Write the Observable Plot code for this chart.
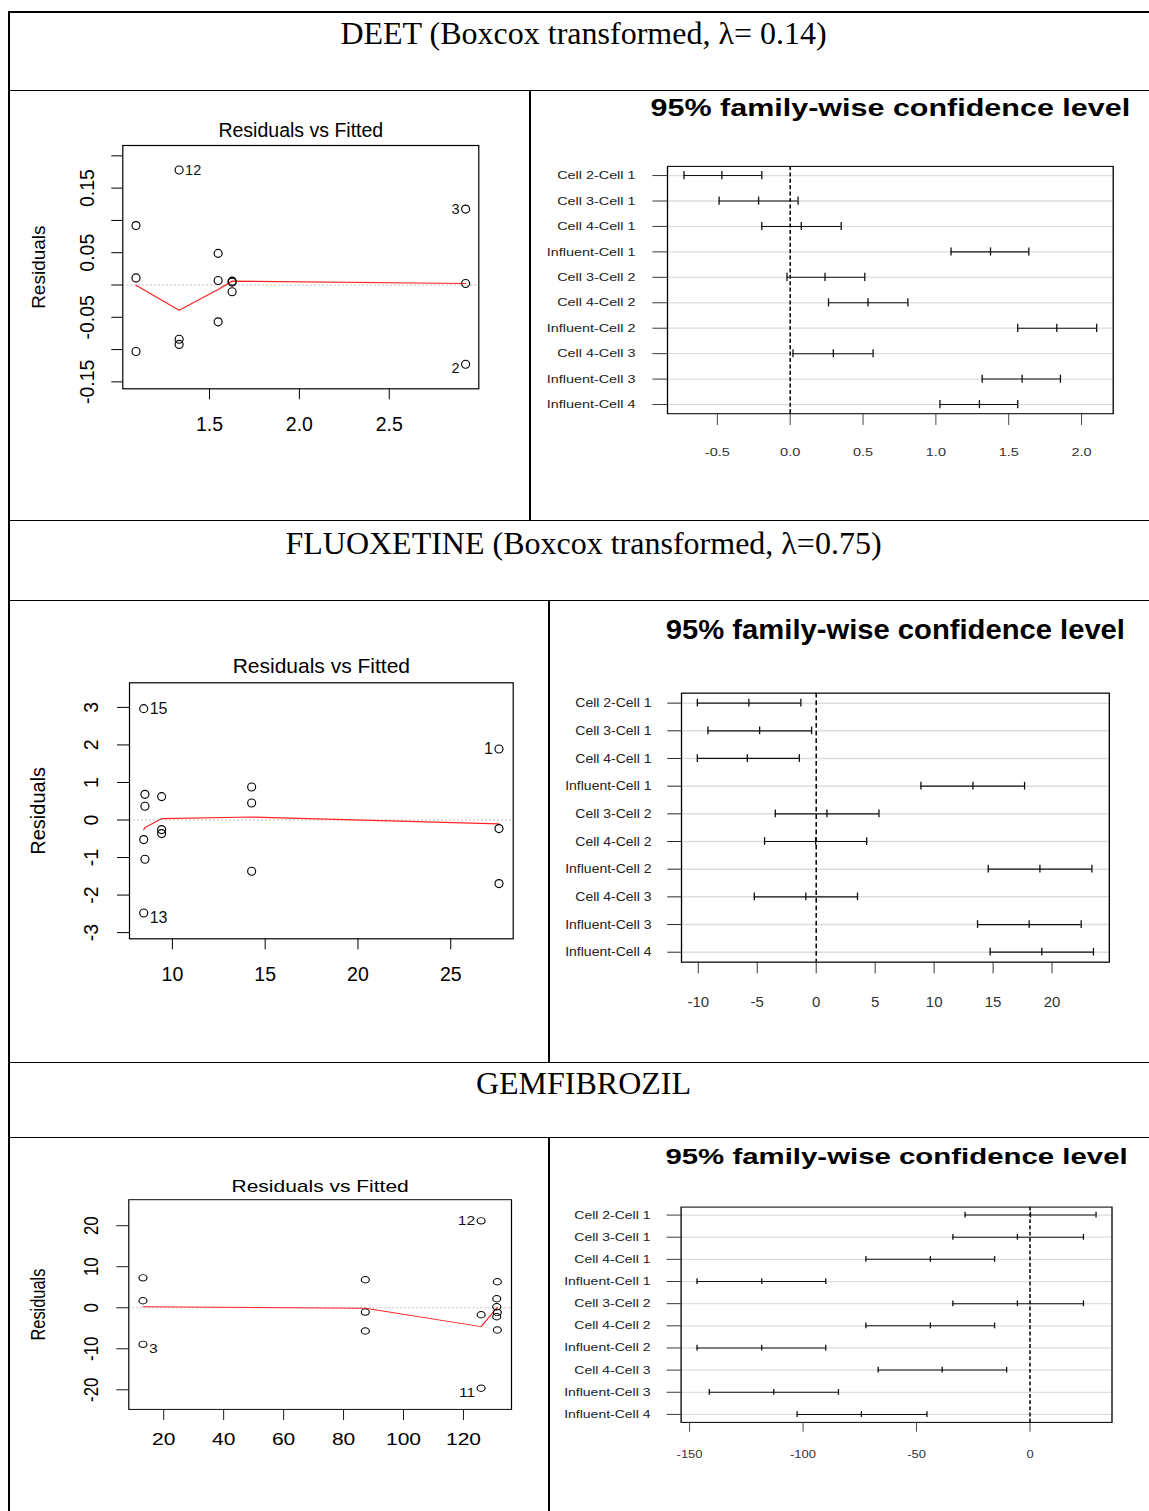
<!DOCTYPE html>
<html><head><meta charset="utf-8">
<script src="https://cdn.jsdelivr.net/npm/d3@7"></script>
<script src="https://cdn.jsdelivr.net/npm/@observablehq/plot@0.6"></script>
<style>
html,body{margin:0;padding:0;background:#fff;}
#page{position:relative;width:1149px;height:1511px;overflow:hidden;background:#fff;}
.line{position:absolute;background:#000;}
.hdr{position:absolute;left:9px;width:1149px;text-align:center;font-family:"Liberation Serif","Times New Roman",serif;font-size:32px;line-height:36px;color:#000;white-space:nowrap;}
.panel{position:absolute;transform-origin:0 0;}
.panel svg{overflow:visible;display:block;max-width:none;}
</style></head><body><div id="page"></div>
<script>
// ---------------- DATA ----------------
const headers = ["DEET (Boxcox transformed, λ= 0.14)", "FLUOXETINE (Boxcox transformed, λ=0.75)", "GEMFIBROZIL"];
const residTitle = "Residuals vs Fitted";
const residYLabel = "Residuals";
const tukeyTitle = "95% family-wise confidence level";
const comparisons = ["Cell 2-Cell 1","Cell 3-Cell 1","Cell 4-Cell 1","Influent-Cell 1","Cell 3-Cell 2","Cell 4-Cell 2","Influent-Cell 2","Cell 4-Cell 3","Influent-Cell 3","Influent-Cell 4"];

// DEET residuals vs fitted
const deetFitted = [1.091,1.091,1.091,1.331,1.331,1.331,1.548,1.548,1.548,1.626,1.626,1.626,2.925,2.925,2.925];
const deetResid  = [0.092,0.011,-0.103,0.178,-0.084,-0.092,0.049,0.007,-0.057,0.006,0.0045,-0.0105,0.1176,0.0023,-0.1227];
const deetIds    = ["","","","12","","","","","","","","","3","","2"];
const deetSmoothX = [1.091,1.331,1.548,1.626,2.925];
const deetSmoothY = [-0.0003,-0.039,-0.007,0.006,0.0023];
const deetResXTicks = [1.5,2.0,2.5];
const deetResXLabels = ["1.5","2.0","2.5"];
const deetResYTicks = [-0.15,-0.10,-0.05,0,0.05,0.10,0.15,0.20];
const deetResYLabels = ["-0.15","","-0.05","","0.05","","0.15",""];
// DEET Tukey
const deetDiff = [-0.469,-0.217,0.076,1.375,0.239,0.534,1.830,0.296,1.592,1.299];
const deetLwr  = [-0.729,-0.488,-0.195,1.104,-0.022,0.263,1.562,0.019,1.318,1.028];
const deetUpr  = [-0.195,0.054,0.350,1.638,0.512,0.808,2.104,0.569,1.855,1.562];
const deetTukeyTicks = [-0.5,0,0.5,1,1.5,2];
const deetTukeyLabels = ["-0.5","0.0","0.5","1.0","1.5","2.0"];

// FLUOXETINE residuals vs fitted
const fluoFitted = [8.454,8.454,8.454,8.52,8.52,8.52,9.42,9.42,9.42,14.27,14.27,14.27,27.6,27.6,27.6];
const fluoResid  = [2.967,-0.522,-2.477,0.684,0.365,-1.047,0.623,-0.256,-0.362,0.879,0.453,-1.366,1.891,-0.229,-1.694];
const fluoIds    = ["15","","13","","","","","","","","","","1","",""];
const fluoSmoothX = [8.454,8.52,9.42,14.27,27.6];
const fluoSmoothY = [-0.26,-0.2,0.035,0.08,-0.105];
const fluoResXTicks = [10,15,20,25];
const fluoResXLabels = ["10","15","20","25"];
const fluoResYTicks = [-3,-2,-1,0,1,2,3];
const fluoResYLabels = ["-3","-2","-1","0","1","2","3"];
// FLUOXETINE Tukey
const fluoDiff = [-5.71,-4.80,-5.84,13.29,0.91,-0.05,18.97,-0.88,18.06,19.13];
const fluoLwr  = [-10.08,-9.18,-10.08,8.88,-3.47,-4.38,14.59,-5.25,13.68,14.75];
const fluoUpr  = [-1.30,-0.39,-1.43,17.67,5.32,4.28,23.38,3.50,22.47,23.51];
const fluoTukeyTicks = [-10,-5,0,5,10,15,20];
const fluoTukeyLabels = ["-10","-5","0","5","10","15","20"];

// GEMFIBROZIL residuals vs fitted
const gemFitted = [13.08,13.08,13.08,87.26,87.26,87.26,125.9,125.9,125.9,131.3,131.3,131.3,131.1,131.1,131.1];
const gemResid  = [7.30,1.70,-8.91,6.82,-1.05,-5.67,21.18,-1.70,-19.62,6.33,-1.14,-5.43,2.19,0.24,-2.19];
const gemIds    = ["","","3","","","","12","","11","","","","","",""];
const gemSmoothX = [13.08,87.26,125.9,131.3];
const gemSmoothY = [0.25,-0.1,-4.6,0.1];
const gemResXTicks = [20,40,60,80,100,120];
const gemResXLabels = ["20","40","60","80","100","120"];
const gemResYTicks = [-20,-10,0,10,20];
const gemResYLabels = ["-20","-10","0","10","20"];
// GEMFIBROZIL Tukey
const gemDiff = [0.24,-5.55,-43.9,-118.2,-5.55,-43.9,-118.2,-38.7,-112.9,-74.3];
const gemLwr  = [-28.6,-33.97,-72.3,-146.7,-33.97,-72.3,-146.7,-66.9,-141.3,-102.6];
const gemUpr  = [29.1,23.55,-15.6,-90.0,23.55,-15.6,-90.0,-10.3,-84.4,-45.4];
const gemTukeyTicks = [-150,-100,-50,0];
const gemTukeyLabels = ["-150","-100","-50","0"];

// ---------------- LAYOUT ----------------
const FONT = '"Liberation Sans", Arial, Helvetica, sans-serif';
const page = document.getElementById("page");
function addLine(l, t, w, h) {
  const d = document.createElement("div");
  d.className = "line";
  Object.assign(d.style, {left: l + "px", top: t + "px", width: w + "px", height: h + "px"});
  page.appendChild(d);
}
function addHeader(text, cy) {
  const d = document.createElement("div");
  d.className = "hdr";
  d.style.top = (cy - 18) + "px";
  d.textContent = text;
  page.appendChild(d);
}
function place(svg, L, T, W, sy) {
  const wrap = document.createElement("div");
  wrap.className = "panel";
  wrap.style.left = L + "px";
  wrap.style.top = T + "px";
  wrap.style.width = W + "px";
  wrap.style.transform = `scaleY(${sy})`;
  wrap.appendChild(svg);
  page.appendChild(wrap);
}
const pad = (v, f) => [v[0] - f * (v[1] - v[0]), v[1] + f * (v[1] - v[0])];

function residPlot(c) {
  const {L, T, W, H, sy, fr, fitted, resid, ids, sx, sY, xt, xl, yt, yl, s} = c;
  const h = H / sy;
  const data = fitted.map((f, i) => ({f, r: resid[i], id: ids[i]}));
  const xr = d3.extent(fitted), yr = d3.extent(resid);
  const xdom = pad(xr, 0.04), ydom = pad(pad(yr, 0.08), 0.04);
  const midX = (xr[0] + xr[1]) / 2;
  const smooth = sx.map((x, i) => ({x, y: sY[i]}));
  const xMap = new Map(xt.map((t, i) => [t, xl[i]]));
  const yMap = new Map(yt.map((t, i) => [t, yl[i]]));
  const lab = (filt, opts) => Plot.text(data.filter(d => d.id && filt(d)), {x: "f", y: "r", text: "id", fontSize: s.idFs, fill: "#111", lineAnchor: "middle", ...opts});
  const svg = Plot.plot({
    width: W, height: h,
    marginLeft: fr[0] - L, marginRight: L + W - fr[2],
    marginTop: (fr[1] - T) / sy, marginBottom: (T + H - fr[3]) / sy,
    style: {fontFamily: FONT, background: "transparent", overflow: "visible", color: "#000"},
    x: {domain: xdom}, y: {domain: ydom},
    marks: [
      Plot.ruleY([0], {stroke: "#bdbdbd", strokeDasharray: "2,2", strokeWidth: 1}),
      Plot.line(smooth, {x: "x", y: "y", stroke: "#ff2222", strokeWidth: 1.2}),
      Plot.dot(data, {x: "f", y: "r", r: 4, stroke: "#000", fill: "none", strokeWidth: 1.15}),
      lab(d => d.f < midX && d.r >= 0, {textAnchor: "start", dx: 6}),
      lab(d => d.f < midX && d.r < 0, {textAnchor: "start", dx: 6, dy: s.negDy}),
      lab(d => d.f >= midX && d.r >= 0, {textAnchor: "end", dx: -6}),
      lab(d => d.f >= midX && d.r < 0, {textAnchor: "end", dx: -6, dy: s.negDy}),
      Plot.frame({stroke: "#000", strokeWidth: 1.2}),
      Plot.axisX(xt, {tickSize: s.xts, tickPadding: s.xtp, tickFormat: d => xMap.get(d), fontSize: s.fs, label: null, color: "#000"}),
      Plot.axisY(yt, {tickSize: s.yts, tickPadding: s.ytp, tickRotate: -90, tickFormat: d => yMap.get(d), fontSize: s.fs, label: null, color: "#000"}),
      Plot.text([residTitle], {text: d => d, frameAnchor: "top", dy: -s.titleOff, fontSize: s.titleFs, textAnchor: "middle", lineAnchor: "middle", fill: "#000"}),
      Plot.text([residYLabel], {text: d => d, frameAnchor: "left", dx: -s.ylabOff, rotate: -90, fontSize: s.ylabFs, textAnchor: "middle", lineAnchor: "middle", fill: "#000"})
    ]
  });
  place(svg, L, T, W, sy);
}

function tukeyPlot(c) {
  const {L, T, W, H, sy, fr, diff, lwr, upr, xt, xl, s} = c;
  const h = H / sy;
  const n = comparisons.length;
  // rows placed as in R: first comparison at the top (y = n ... 1)
  const data = comparisons.map((k, i) => ({k, row: n - i, diff: diff[i], lwr: lwr[i], upr: upr[i]}));
  const rows = data.map(d => d.row);
  const rowName = new Map(data.map(d => [d.row, d.k]));
  const xdom = pad([d3.min(lwr), d3.max(upr)], 0.04);
  const ydom = pad([1, n], 0.04);
  const xMap = new Map(xt.map((t, i) => [t, xl[i]]));
  const cap = v => Plot.ruleX(data, {x: v, y1: d => d.row - s.cap, y2: d => d.row + s.cap, stroke: "#111", strokeWidth: 1.3});
  const svg = Plot.plot({
    width: W, height: h,
    marginLeft: fr[0] - L, marginRight: L + W - fr[2],
    marginTop: (fr[1] - T) / sy, marginBottom: (T + H - fr[3]) / sy,
    style: {fontFamily: FONT, background: "transparent", overflow: "visible", color: "#000"},
    x: {domain: xdom},
    y: {domain: ydom},
    marks: [
      Plot.ruleY(rows, {y: d => d, stroke: "#dddddd", strokeWidth: 1.6}),
      Plot.ruleX([0], {stroke: "#000", strokeDasharray: "5,3", strokeWidth: 1.5}),
      Plot.ruleY(data, {y: "row", x1: "lwr", x2: "upr", stroke: "#111", strokeWidth: 1.3}),
      cap("lwr"), cap("diff"), cap("upr"),
      Plot.frame({stroke: "#000", strokeWidth: 1.3}),
      Plot.axisY(rows, {tickSize: s.yts, tickPadding: s.ytp, tickFormat: d => rowName.get(d), fontSize: s.yfs, label: null, color: "#222"}),
      Plot.axisX(xt, {tickSize: s.xts, tickPadding: s.xtp, tickFormat: d => xMap.get(d), fontSize: s.xfs, label: null, color: "#333"}),
      Plot.text([tukeyTitle], {text: d => d, frameAnchor: "top", dy: -s.titleOff, fontSize: s.titleFs, fontWeight: "bold", textAnchor: "middle", lineAnchor: "middle", fill: "#000"})
    ]
  });
  place(svg, L, T, W, sy);
}

// table lines
addLine(8, 11, 1141, 2);
addLine(8, 11, 2, 1500);
addLine(9, 90, 1140, 1);
addLine(529, 90, 2, 430);
addLine(9, 520, 1140, 1);
addLine(9, 600, 1140, 1);
addLine(548, 600, 2, 462);
addLine(9, 1062, 1140, 1);
addLine(9, 1137, 1140, 1);
addLine(548, 1137, 2, 374);

addHeader(headers[0], 33);
addHeader(headers[1], 543);
addHeader(headers[2], 1083);

residPlot({L: 12, T: 92, W: 516, H: 426, sy: 1, fr: [122.3, 145, 478.3, 388.3],
  fitted: deetFitted, resid: deetResid, ids: deetIds, sx: deetSmoothX, sY: deetSmoothY,
  xt: deetResXTicks, xl: deetResXLabels, yt: deetResYTicks, yl: deetResYLabels,
  s: {fs: 19.5, xts: 11, xtp: 17, yts: 11, ytp: 17.6, titleFs: 19.5, titleOff: 15, ylabFs: 19, ylabOff: 83.8, idFs: 14.5, negDy: 4}});

tukeyPlot({L: 532, T: 92, W: 617, H: 426, sy: 0.8, fr: [667, 166, 1112.7, 413.3],
  diff: deetDiff, lwr: deetLwr, upr: deetUpr, xt: deetTukeyTicks, xl: deetTukeyLabels,
  s: {yfs: 14.4, yts: 14.6, ytp: 17.4, xfs: 14.5, xts: 14.6, xtp: 27.7, titleFs: 30.5, titleOff: 72.5, cap: 0.16}});

residPlot({L: 12, T: 602, W: 535, H: 458, sy: 1, fr: [129, 682.3, 512.7, 938.3],
  fitted: fluoFitted, resid: fluoResid, ids: fluoIds, sx: fluoSmoothX, sY: fluoSmoothY,
  xt: fluoResXTicks, xl: fluoResXLabels, yt: fluoResYTicks, yl: fluoResYLabels,
  s: {fs: 19.5, xts: 11, xtp: 17, yts: 12, ytp: 20, titleFs: 21, titleOff: 16.3, ylabFs: 20, ylabOff: 90.7, idFs: 16, negDy: 5}});

tukeyPlot({L: 551, T: 602, W: 598, H: 458, sy: 0.95, fr: [681, 692.7, 1108.8, 961.7],
  diff: fluoDiff, lwr: fluoLwr, upr: fluoUpr, xt: fluoTukeyTicks, xl: fluoTukeyLabels,
  s: {yfs: 14, yts: 13.7, ytp: 16.3, xfs: 15, xts: 12.3, xtp: 24.7, titleFs: 29.2, titleOff: 66, cap: 0.14}});

residPlot({L: 12, T: 1139, W: 535, H: 372, sy: 0.8, fr: [128.3, 1199.3, 511, 1409],
  fitted: gemFitted, resid: gemResid, ids: gemIds, sx: gemSmoothX, sY: gemSmoothY,
  xt: gemResXTicks, xl: gemResXLabels, yt: gemResYTicks, yl: gemResYLabels,
  s: {fs: 21, xts: 13.75, xtp: 15.4, yts: 12, ytp: 18.8, titleFs: 21, titleOff: 16.6, ylabFs: 20.5, ylabOff: 90, idFs: 15.6, negDy: 5.6}});

tukeyPlot({L: 551, T: 1139, W: 598, H: 372, sy: 0.78, fr: [680.6, 1206.7, 1111.5, 1422],
  diff: gemDiff, lwr: gemLwr, upr: gemUpr, xt: gemTukeyTicks, xl: gemTukeyLabels,
  s: {yfs: 14, yts: 14, ytp: 16.6, xfs: 13, xts: 12.4, xtp: 23.9, titleFs: 29.4, titleOff: 64.1, cap: 0.13}});
</script>
</body></html>
